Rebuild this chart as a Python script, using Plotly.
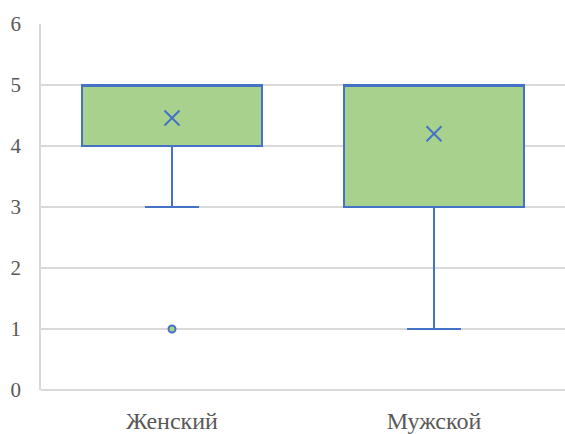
import plotly.graph_objects as go

# Box plot summary per group
categories = ["Женский", "Мужской"]
q1 = [4, 3]
median = [5, 5]
q3 = [5, 5]
lower = [3, 1]
upper = [5, 5]
means = [4.46, 4.2]
outlier_x = ["Женский"]
outlier_y = [1]

y_ticks = [0, 1, 2, 3, 4, 5, 6]

blue = "#4472C4"
green = "#A9D18E"
grid = "#D9D9D9"
text = "#595959"

fig = go.Figure()
fig.add_trace(go.Box(
    x=categories, q1=q1, median=median, q3=q3,
    lowerfence=lower, upperfence=upper,
    fillcolor=green, line=dict(color=blue, width=2),
    whiskerwidth=0.3, width=0.687, boxpoints=False,
    showlegend=False, hoverinfo="skip",
))
fig.add_trace(go.Scatter(
    x=categories, y=means, mode="markers",
    marker=dict(symbol="x-thin", size=15, line=dict(color=blue, width=2)),
    showlegend=False,
))
fig.add_trace(go.Scatter(
    x=outlier_x, y=outlier_y, mode="markers",
    marker=dict(symbol="circle", size=7, color=green, line=dict(color=blue, width=2)),
    showlegend=False,
))

fig.update_layout(
    width=565, height=434,
    margin=dict(l=41, r=0, t=24, b=44),
    paper_bgcolor="white", plot_bgcolor="white",
    font=dict(family="Liberation Serif, Times New Roman, serif", size=21, color=text),
)
fig.update_xaxes(
    type="category", range=[-0.5, 1.5], showgrid=False, zeroline=False,
    showline=False, ticks="", tickfont=dict(size=24), ticklabelstandoff=14,
)
fig.update_yaxes(
    range=[0, 6], tickvals=y_ticks, showgrid=True, gridcolor=grid, gridwidth=1.5,
    zeroline=True, zerolinecolor=grid, zerolinewidth=1.5,
    showline=True, linecolor=grid, linewidth=1.5,
    ticks="", ticklabelstandoff=14,
)

fig.write_html("out.html")
